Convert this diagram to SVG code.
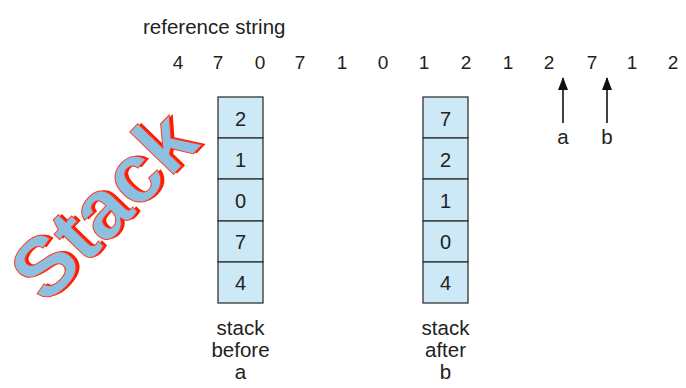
<svg xmlns="http://www.w3.org/2000/svg" width="686" height="388" viewBox="0 0 686 388">
<style>
text{font-family:"Liberation Sans",Arial,sans-serif;fill:#222}
.t{font-size:20.5px}
.n{font-size:19px;text-anchor:middle}
.c{font-size:20px;text-anchor:middle}
.l{font-size:20.5px;text-anchor:middle}
.cell{fill:#cde9f7;stroke:#333;stroke-width:1.3}
.ar{stroke:#111;stroke-width:1.6;fill:none}
.stk{font-family:"Liberation Sans",Arial,sans-serif;font-weight:bold;font-size:84px;text-anchor:middle}
</style>
<defs>
<marker id="ah" markerWidth="13" markerHeight="10" refX="12" refY="5" orient="auto" markerUnits="userSpaceOnUse" viewBox="0 0 13 10">
<path d="M0,0 L13,5 L0,10 Z" fill="#111"/>
</marker>
</defs>
<rect width="686" height="388" fill="#fff"/>
<g id="title"><text class="t" x="143" y="34">reference string</text></g>
<g id="refstring">
<text class="n" x="178" y="69">4</text>
<text class="n" x="218" y="69">7</text>
<text class="n" x="260" y="69">0</text>
<text class="n" x="300" y="69">7</text>
<text class="n" x="342" y="69">1</text>
<text class="n" x="383" y="69">0</text>
<text class="n" x="424" y="69">1</text>
<text class="n" x="466" y="69">2</text>
<text class="n" x="508" y="69">1</text>
<text class="n" x="549" y="69">2</text>
<text class="n" x="592" y="69">7</text>
<text class="n" x="632" y="69">1</text>
<text class="n" x="673" y="69">2</text>
</g>
<g id="stack-before">
<rect class="cell" x="218" y="97" width="45" height="41"/>
<rect class="cell" x="218" y="138" width="45" height="41"/>
<rect class="cell" x="218" y="179" width="45" height="42"/>
<rect class="cell" x="218" y="221" width="45" height="41"/>
<rect class="cell" x="218" y="262" width="45" height="41"/>
<text class="c" x="240.5" y="126">2</text>
<text class="c" x="240.5" y="167">1</text>
<text class="c" x="240.5" y="208">0</text>
<text class="c" x="240.5" y="249">7</text>
<text class="c" x="240.5" y="290">4</text>
<text class="l" x="240.5" y="335">stack</text>
<text class="l" x="240.5" y="357">before</text>
<text class="l" x="240.5" y="379">a</text>
</g>
<g id="stack-after">
<rect class="cell" x="423" y="97" width="45" height="41"/>
<rect class="cell" x="423" y="138" width="45" height="41"/>
<rect class="cell" x="423" y="179" width="45" height="42"/>
<rect class="cell" x="423" y="221" width="45" height="41"/>
<rect class="cell" x="423" y="262" width="45" height="41"/>
<text class="c" x="445.5" y="126">7</text>
<text class="c" x="445.5" y="167">2</text>
<text class="c" x="445.5" y="208">1</text>
<text class="c" x="445.5" y="249">0</text>
<text class="c" x="445.5" y="290">4</text>
<text class="l" x="445.5" y="335">stack</text>
<text class="l" x="445.5" y="357">after</text>
<text class="l" x="445.5" y="379">b</text>
</g>
<g id="connectors">
<line class="ar" x1="563" y1="123" x2="563" y2="78" marker-end="url(#ah)"/>
<line class="ar" x1="607" y1="123" x2="607" y2="78" marker-end="url(#ah)"/>
</g>
<g id="labels">
<text class="l" x="563" y="144">a</text>
<text class="l" x="607" y="144">b</text>
</g>
<g id="stack-word" transform="translate(104,206) rotate(-46)">
<text class="stk" x="3" y="30" style="fill:#ff1a00">Stack</text>
<text class="stk" x="0" y="28" style="fill:#8dc0e0;stroke:#ff3a20;stroke-width:1">Stack</text>
</g>
</svg>
